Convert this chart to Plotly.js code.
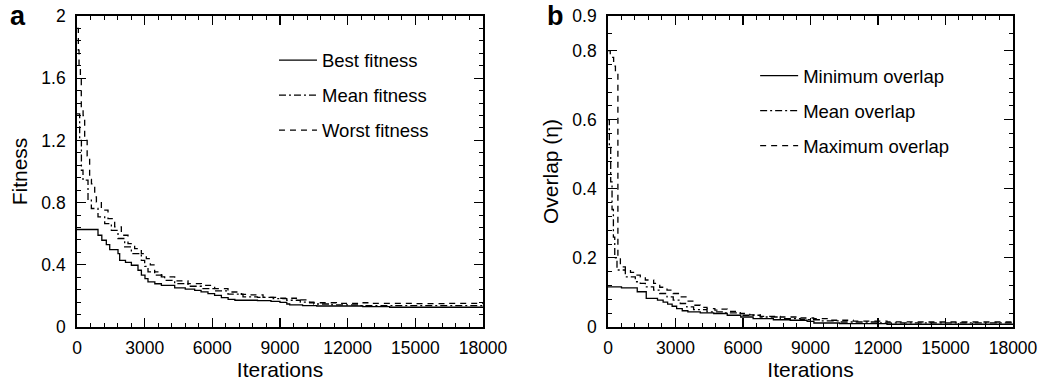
<!DOCTYPE html>
<html>
<head>
<meta charset="utf-8">
<script src="https://cdn.plot.ly/plotly-3.0.1.min.js"></script>
<style>
  html, body { margin: 0; padding: 0; background: #fff; }
  #chart { width: 1040px; height: 381px; }
</style>
</head>
<body>
<div id="chart"></div>
<script>
// Panel a: fitness of the population over the iterations
const bestIter  = [0, 931, 1100, 1300, 1450, 1818, 1892, 2150, 2411, 2704, 2855, 3014, 3147, 3450, 3741, 4331, 4800, 5218, 5500, 5807, 6100, 6401, 6700, 7000, 8000, 8600, 9000, 9300, 9430, 10000, 10627, 12670, 13862, 18000];
const bestFit   = [0.627, 0.59, 0.558, 0.53, 0.498, 0.472, 0.429, 0.415, 0.397, 0.365, 0.333, 0.311, 0.29, 0.278, 0.268, 0.251, 0.243, 0.236, 0.226, 0.215, 0.203, 0.189, 0.178, 0.172, 0.169, 0.165, 0.158, 0.148, 0.142, 0.138, 0.135, 0.131, 0.127, 0.127];

const meanIter  = [0, 118, 195, 266, 488, 636, 931, 1228, 1524, 1818, 2114, 2410, 2853, 3000, 3148, 3443, 3887, 4330, 4921, 5512, 6103, 6694, 7359, 8000, 8700, 9300, 9900, 10500, 11300, 12500, 14000, 18000];
const meanFit   = [1.37, 1.20, 1.008, 0.944, 0.815, 0.762, 0.708, 0.665, 0.622, 0.569, 0.515, 0.472, 0.429, 0.39, 0.354, 0.333, 0.30, 0.279, 0.262, 0.247, 0.232, 0.211, 0.194, 0.19, 0.182, 0.172, 0.16, 0.148, 0.142, 0.138, 0.137, 0.136];

const worstIter = [0, 60, 90, 150, 190, 270, 340, 450, 560, 640, 785, 860, 1080, 1375, 1670, 1966, 2261, 2556, 2852, 3073, 3250, 3443, 3739, 4330, 4921, 5512, 6103, 6694, 7285, 7509, 8248, 8987, 9726, 10316, 11500, 12530, 13000, 15000, 16500, 18000];
const worstFit  = [1.92, 1.78, 1.67, 1.59, 1.40, 1.36, 1.20, 1.10, 0.95, 0.92, 0.837, 0.804, 0.751, 0.697, 0.644, 0.59, 0.536, 0.504, 0.472, 0.44, 0.40, 0.354, 0.322, 0.296, 0.279, 0.268, 0.247, 0.225, 0.21, 0.206, 0.191, 0.185, 0.174, 0.156, 0.152, 0.156, 0.152, 0.150, 0.152, 0.152];

// Panel b: overlap of the population over the iterations
const minIter   = [0, 600, 1300, 1700, 2200, 2450, 2650, 2850, 3050, 3300, 3550, 4100, 4700, 5300, 5900, 6450, 7350, 8100, 8850, 9150, 10300, 12400, 18000];
const minOv     = [0.116, 0.113, 0.102, 0.083, 0.078, 0.072, 0.066, 0.06, 0.053, 0.047, 0.044, 0.041, 0.039, 0.034, 0.029, 0.024, 0.021, 0.0195, 0.0165, 0.0116, 0.0097, 0.008, 0.008];

const meanOvIter = [0, 60, 120, 180, 240, 300, 400, 770, 1214, 1435, 1659, 2029, 2300, 2622, 2900, 3213, 3500, 3805, 4400, 5140, 5880, 6769, 7658, 8546, 9436, 10325, 12000, 18000];
const meanOv     = [0.60, 0.52, 0.42, 0.34, 0.26, 0.20, 0.165, 0.145, 0.131, 0.126, 0.116, 0.107, 0.097, 0.087, 0.078, 0.068, 0.058, 0.05, 0.044, 0.041, 0.034, 0.029, 0.024, 0.021, 0.0175, 0.0145, 0.012, 0.011];

const maxIter   = [0, 100, 250, 330, 440, 550, 770, 1000, 1214, 1435, 1659, 2029, 2300, 2622, 2900, 3213, 3500, 3805, 4100, 4400, 4750, 4900, 5300, 5880, 6300, 6769, 7658, 8400, 9140, 9880, 10900, 12400, 14000, 18000];
const maxOv     = [0.80, 0.78, 0.755, 0.74, 0.203, 0.174, 0.165, 0.158, 0.15, 0.145, 0.136, 0.126, 0.115, 0.107, 0.097, 0.087, 0.075, 0.063, 0.057, 0.053, 0.049, 0.052, 0.045, 0.039, 0.035, 0.031, 0.029, 0.026, 0.024, 0.0195, 0.017, 0.015, 0.0145, 0.014];

const xTicks = [0, 3000, 6000, 9000, 12000, 15000, 18000];
const xTickText = ['0', '3000', '6000', '9000', '12000', '15000', '18000'];
const fitTicks = [0, 0.4, 0.8, 1.2, 1.6, 2];
const fitTickText = ['0', '0.4', '0.8', '1.2', '1.6', '2'];
const ovTicks = [0, 0.2, 0.4, 0.6, 0.8, 0.9];
const ovTickText = ['0', '0.2', '0.4', '0.6', '0.8', '0.9'];
const ovMinor = [0.04, 0.08, 0.12, 0.16, 0.24, 0.28, 0.32, 0.36, 0.44, 0.48, 0.52, 0.56, 0.64, 0.68, 0.72, 0.76, 0.85];

const FONT = 'Liberation Sans, Arial, Helvetica, sans-serif';
const DASH = '6px,5px';
const DASHDOT = '7px,3px,2px,3px';

function curve(x, y, name, dash, xa, ya, legend, group) {
  return {
    type: 'scatter', mode: 'lines', x: x, y: y, name: name,
    line: { color: '#000', width: 1.3, dash: dash, shape: 'hv' },
    xaxis: xa, yaxis: ya, legend: legend, legendgroup: group
  };
}

const traces = [
  curve(bestIter, bestFit, 'Best fitness', 'solid', 'x', 'y', 'legend', 'a1'),
  curve(meanIter, meanFit, 'Mean fitness', DASHDOT, 'x', 'y', 'legend', 'a2'),
  curve(worstIter, worstFit, 'Worst fitness', DASH, 'x', 'y', 'legend', 'a3'),
  curve(minIter, minOv, 'Minimum overlap', 'solid', 'x2', 'y2', 'legend2', 'b1'),
  curve(meanOvIter, meanOv, 'Mean overlap', DASHDOT, 'x2', 'y2', 'legend2', 'b2'),
  curve(maxIter, maxOv, 'Maximum overlap', DASH, 'x2', 'y2', 'legend2', 'b3')
];

const tickFont = { family: FONT, size: 17.5, color: '#000' };
const titleFont = { family: FONT, size: 21, color: '#000' };

const frame = {
  ticks: 'inside', ticklen: 9, tickwidth: 1.2, tickcolor: '#000',
  showline: true, linewidth: 1.8, linecolor: '#000', mirror: 'allticks',
  showgrid: false, zeroline: false, tickfont: tickFont
};

function xAxis(domain, anchor) {
  return Object.assign({}, frame, {
    domain: domain, anchor: anchor, range: [0, 18000],
    tickmode: 'array', tickvals: xTicks, ticktext: xTickText,
    minor: { ticks: 'inside', dtick: 600, tick0: 0, ticklen: 4, tickwidth: 1, tickcolor: '#000' },
    ticklabelstandoff: 4,
    title: { text: 'Iterations', font: titleFont, standoff: 5 }
  });
}

const legendBase = {
  xanchor: 'left', yanchor: 'top',
  traceorder: 'grouped', tracegroupgap: 8, itemwidth: 38,
  bgcolor: 'rgba(0,0,0,0)', borderwidth: 0,
  font: { family: FONT, size: 18.5, color: '#000' }
};

const layout = {
  width: 1040, height: 381,
  margin: { l: 60, r: 20, t: 16, b: 54 },
  paper_bgcolor: '#fff', plot_bgcolor: '#fff',
  showlegend: true,
  font: { family: FONT, color: '#000' },
  xaxis: xAxis([0.01771, 0.44063], 'y'),
  xaxis2: xAxis([0.57083, 0.99271], 'y2'),
  yaxis: Object.assign({}, frame, {
    domain: [0, 1], anchor: 'x', range: [0, 2],
    tickmode: 'array', tickvals: fitTicks, ticktext: fitTickText,
    minor: { ticks: 'inside', dtick: 0.08, tick0: 0, ticklen: 4, tickwidth: 1, tickcolor: '#000' },
    ticklabelstandoff: 6,
    title: { text: 'Fitness', font: titleFont, standoff: 8 }
  }),
  yaxis2: Object.assign({}, frame, {
    domain: [0, 1], anchor: 'x2', range: [0, 0.9],
    tickmode: 'array', tickvals: ovTicks, ticktext: ovTickText,
    minor: { ticks: 'inside', tickmode: 'array', tickvals: ovMinor, ticklen: 4, tickwidth: 1, tickcolor: '#000' },
    ticklabelstandoff: 6,
    title: { text: 'Overlap (η)', font: titleFont, standoff: 8 }
  }),
  legend: Object.assign({}, legendBase, { x: 0.2229, y: 0.918 }),
  legend2: Object.assign({}, legendBase, { x: 0.7241, y: 0.868 }),
  annotations: [
    { text: '<b>a</b>', xref: 'paper', yref: 'paper', x: -0.054, y: 1.0, xanchor: 'left', yanchor: 'middle',
      showarrow: false, font: { family: FONT, size: 27, color: '#000' } },
    { text: '<b>b</b>', xref: 'paper', yref: 'paper', x: 0.505, y: 1.0, xanchor: 'left', yanchor: 'middle',
      showarrow: false, font: { family: FONT, size: 27, color: '#000' } }
  ]
};

Plotly.newPlot('chart', traces, layout, { staticPlot: true, displayModeBar: false });
</script>
</body>
</html>
